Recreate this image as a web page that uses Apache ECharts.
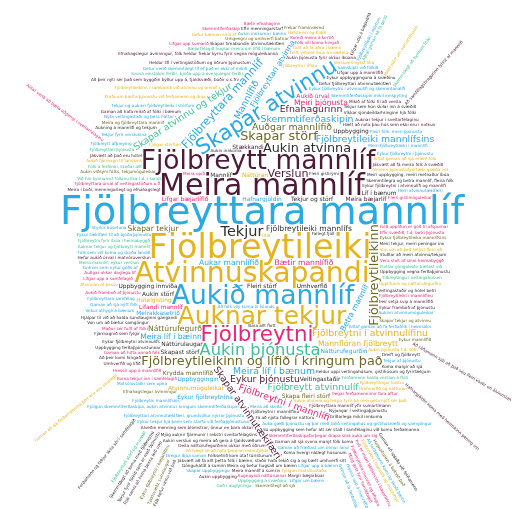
<!DOCTYPE html>
<html>
<head>
<meta charset="utf-8">
<script src="https://cdn.jsdelivr.net/npm/echarts@6.0.0/dist/echarts.min.js"></script>
<style>
html, body { margin: 0; padding: 0; background: #fff; }
#chart { width: 524px; height: 509px; }
</style>
</head>
<body>
<div id="chart"></div>
<script>
// answers with the number of times each was given
const topWords = [
  'Fjölbreyttara mannlíf', 'Fjölbreytileiki', 'Meira mannlíf', 'Atvinnuskapandi',
  'Fjölbreytt mannlíf', 'Aukið mannlíf', 'Auknar tekjur', 'Skapar atvinnu', 'Fjölbreytni',
  'Aukin þjónusta', 'Tekjur', 'Aukin atvinna', 'Fjölbreytileikinn og lífið í kringum það',
  'Skapar störf', 'Fjölbreytileikinn'
]
const topCounts = [21, 18, 16, 15, 14, 14, 13, 11, 11, 8, 7, 6, 6, 6, 6]

const midWords = [
  'Verslun', 'Fjölbreyttara mannlíf', 'Auðgar mannlífið', 'Skemmtiferðaskipin', 'Meira líf í bænum',
  'Eykur þjónustu', 'Skapar atvinnutækifæri', 'Mannlífið', 'Skapar atvinnu og tekjur',
  'Fjölbreytni í mannlífi', 'Efnahagurinn', 'Fjölbreytt atvinnulíf', 'Fjölbreytileiki mannlífsins',
  'Fjölbreytni í atvinnulífinu', 'Fjölbreytileiki mannlífs', 'Aukar mannlífið', 'Bætir mannlífið',
  'Náttúrufegurð', 'Skapar tekjur', 'Meiri þjónusta', 'Mannflóran fjölbreytt', 'Meira líf í bæinn',
  'Fjölbreyttari atvinna', 'Betra mannlíf', 'Hafnargjöldin', 'Tekjur og störf', 'Lífgar bæjarlífið',
  'Fleiri störf', 'Meira bæjarlíf', 'Stækkandi', 'Náttúrulaugar', 'Uppbygging innviða',
  'Lifandi mannlíf', 'Umhverfið', 'Náttúrufegurðin', 'Uppbygging', 'Veitingastaðir', 'Aukin störf',
  'Skapa fleiri störf', 'Melrakkasetrið', 'Krydda mannlífið', 'Skapast störf', 'Uppbyggingin',
  'Aukið úrval', 'Atvinnumöguleikar', 'Eykur fjölbreytnina', 'Náttúran', 'Líf í bænum', 'Mannlíf',
  'Hótelgisting'
]
const midCounts = [
  5, 5, 4, 4, 4,
  4, 4, 4, 4,
  4, 4, 4, 4,
  4, 3, 3, 3,
  3, 3, 3, 3, 3,
  3, 3, 2, 2, 2,
  2, 2, 2, 2, 2,
  2, 2, 2, 2, 2, 2,
  2, 2, 2, 2, 2,
  2, 2, 2, 2, 2, 2,
  2
]

// single answers, grouped by the colour they are drawn in
const bluePhrases = [
  'Auka gæði þjónustu og þar með talið veitingahús og gistihúsnæði og samgöngur',
  'Fjölbreyttari atvinnutækifæri, grundvöllur nýrrar þjónustu', 'Aukin innkoma í bæinn',
  'Gaman að sjá nýtt fólk', 'Dregur íbúa saman', 'Tekjur fyrir verslunina', 'Styrkir búsetuna',
  'Matsölustaðir sem opna', 'Vekur athygli á bænum',
  'Eykur tekjur hjá þeim sem starfa við ferðaþjónustuna', 'Aukinn atvinnumöguleikar',
  'Eykur fjölbreytni í þjónustu', 'Fleiri fólk, meiri þjónusta', 'Gaman að fræðast um önnur lönd',
  'Samskipti við fólkið', 'Fjölbreytt afþreying', 'Fjölbreytni mannlífsins',
  'Alltaf gaman að fá ferðafólk í heimsókn', 'Skemmtiferðaskipin mikil innspýting',
  'Nýta veitingastaði og þess háttar', 'Getur verið skemmtilegt líf ef það er ekki of mikið',
  'Lífgar upp á bæinn', 'Tekjur af þjónustu', 'Meiri fjölbreytileiki í mannlífi', 'Meira að skoða',
  'Fjölbreyttara samfélag', 'Fleiri atvinnutækifæri', 'Fólk sem vill koma og skoða landið',
  'Eykur fjölbreytni í atvinnulífi og skemmtanalífi', 'Eykur tækifæri til að bjóða þjónustu',
  'Einhver sem nýtur góðs af',
  'Fjölgun skemmtiferðaskipa, aukin atvinna í kringum skemmtiferðaskipin', 'Skapar uppbyggingu',
  'Að fólk vilji koma til Íslands', 'Tekjur og aukinn fjölbreytileiki í störfum', 'Lífgar um bæinn',
  'Fjölbreytileiki í störfum', 'Gaman að fá ferðafólk', 'Hressa upp á mannlífið',
  'Að ferðamenn komi og skoði bæinn'
]
const maroonPhrases = [
  'Heldur lífi í veitingastöðum og öðrum þjónustum', 'Eykur fjölbreytni í atvinnulífi og mannlífi',
  'Auknar tekjur í sveitarfélaginu', 'Meira í boði, menningarlegt og efnahagslegt',
  'Meira mannlíf á sumrin', 'Hætt að nota þau hús sem ekki eru í notkun',
  'Alveðin menning sem blómstrar, önnur en bara okkar',
  'Að þeir nýti sér það sem byggðin býður upp á, tjaldsvæði, búðir o.s.frv',
  'Gaman að hafa mikið af fólki í bænum', 'Gaman að sjá svona margt fólk koma',
  'Þeir setja svip á mannlífið', 'Fjölbreyttara mannlíf yfir sumartímann',
  'Hefur aukið úrval í matvöruverslun', 'Aukin þjónusta fyrir okkur íbúana',
  'Deila náttúrufegurðinni okkar með öðrum', 'Umhverfið og lífið', 'Eykur framboð af þjónustu',
  'Mikið af fólki til að versla', 'Jákvætt að það eru hótel', 'Margir bæjarbúar',
  'Fjármagnið sem fylgir', 'Lífgar upp á mannlífið', 'Jákvætt að fá meira fólk á svæðið',
  'Efnahagslegur ávinningur, fólk heldur frekar kyrru fyrir vegna möguleikanna', 'Aukin uppbygging',
  'Að ráðamenn sjái að það séu fleiri kostir en álvinnslan',
  'Hafnargjöldin koma með heilmikinn pening inn', 'Fólk nenni að koma þessa leið upp',
  'Að samfélagsbragurinn fyllist af mannlífi'
]
const goldPhrases = [
  'Gott viðmót íbúa á svæðinu', 'Aukin atvinna og tekjur fyrir þá sem geta nýtt sér það',
  'Alltaf gaman að sjá erlent fólk', 'Aukin þjónusta t.d. söfn', 'Atvinnan af þessu',
  'Fjölbreytni í lífinu', 'Gott að fá aðra í bæinn', 'Að hægt sé að nýta þennan mannfjölda',
  'Von um að það setjist fleiri að', 'Fjölgar störfum', 'Verslunin eykst líka',
  'Umhverfið og náttúran', 'Aukið fjármagn til landsins', 'Fjölgun matsölustaða',
  'Almenn þjónustufyrirtæki græða vel', 'Fjölbreytileikinn í sambandi við atvinnu og annað',
  'Hafsteinn og Kiddi', 'Fjölbreytilegur kostur', 'Krafa um bætta þjónustu við ferðamenn og íbúa',
  'Upplifunin og náttúrufegurðin', 'Gefur bænum smá líf', 'Lítið',
  'Fjölbreytni í mannlífi og menningu', 'Gaman að sjá ferðamennina þeir eru svo vinalegir',
  'Meiri störf um sumartímann'
]
const pinkPhrases = [
  'Fleiri gistimöguleikar', 'Fólk vill koma hingað', 'Þegar ferðamennirnir fara aftur',
  'Hressir upp á mannlífið', 'Vera stolt af sinni heimabyggð', 'Augnayndi náttúrunnar',
  'Góð upplifun er góð til afspurnar', 'Auðgar okkar daglega líf', 'Komið meira á kortið',
  'Lífgar upp sumarið', 'Maður sér fullt af fólki', 'Bætir efnahaginn',
  'Koma tekjur inn í samfélagið', 'Meira opið', 'Fjölbreyttara úrval af veitingastöðum o.fl.',
  'Eflir svæðið, t.d. betri þjónusta', 'Skemmtiferðaskip', 'Lífgar upp á samfélagið',
  'Aukið framboð af þjónustu', 'Gaman að hitta annað fólk',
  'Skemmtiferðaskipafarþegar skapa smá auka um sig', 'Fjölbreytileiki í mannlífinu',
  'Mjög gott fyrir samfélagið', 'Fjölbreyttara mannlíf og líflegra',
  'Alltaf verið að bæta aðgengi í sveitarfélaginu', 'Það er meiri fjölbreytni í bæjarlífinu'
]
const tealPhrases = [
  'Bæjarfélagið hugsar meira um lífið í bænum', 'Fólk á ferðinni, skoðar allt', 'Góð í auglýsingu',
  'Fjölbreyttari þjónusta', 'Fjölbreyttari störf og mannlíf', 'Tilbreytingu í veitingahúsum',
  'Meira mannlíf, eykur verslun', 'Ferðamenn halda verslun á floti', 'Uppbygging á svæðinu',
  'Fjölbreytni fyrir íbúa í heimabyggð', 'Svona einstakar ferðir, bjóða upp á óvenjulegar ferðir',
  'Við hin kynnumst fólkinu líka t.d. í sundi', 'Flottar gönguleiðir bætast við',
  'Auknar tekjur og fjölbreytt mannlíf', 'Alltaf gaman að fá gesti', 'Skemmtilegt að kynnast fólki'
]
const olivePhrases = [
  'Frekar framkvæmd', 'Meira og fjölbreyttara mannlíf', 'Eykur fjölbreytileika mannlífsins',
  'Efnahagslegur ávinningur', 'Skapar tekjur og atvinnu', 'Aukin víðsýni fólks, tekjumöguleikar',
  'Eykur mannlífið', 'Skemmtilegt að sjá', 'Umgengni og umhverfi batnar',
  'Hagnaðurinn á bakvið það', 'Tjaldsvæði, sundlaugar', 'Eykur fjölbreytni í bæjarlífinu'
]
const darkPhrases = [
  'Víkkar sjóndeildarhringinn hjá fólki', 'Aukin verslun og meira að gera á tjaldsvæðum',
  'Gönguhátíð á sumrin', 'Koma hvergi nálægt húsunum', 'Dreift og fjölbreytt', 'Koma margir að sjá',
  'Nýjungar í veitingaþjónustu', 'Fólksetrið kom útaf túristunum', 'Fallegt fjöll', 'Aukin innkoma',
  'Fá að njóta fallegrar náttúru', 'Að þeir komi hingað', 'Eykur fjölbreytni atvinnulífs',
  'Gefur fjölbreyttari atvinnutækifæri', 'Veitingastaðir og hótel betri',
  'Gaman að spjalla við ferðamenn', 'Bara allt flott', 'Uppbygging vegna ferðaþjónustu',
  'Meiri tekjur, meiri peningar inn', 'Meira og betur hugsað um bæinn', 'Eflir menningarstarf',
  'Eykur uppbygginguna á svæðinu', 'Aukning á mannlífi og tekjum', 'Gríðarlega mikil innkoma',
  'Skemmtilegra og betra mannlíf, fleira fólk', 'Hjálpar til við að halda sundlauginni gangandi',
  'Stuðlar að meiri atvinnu/tekjum',
  'Jákvætt að fá allt þetta fólk í bæinn, staðir hafa tekið sig á og bætt umhverfi sitt',
  'Sú uppbygging sem hefur átt sér stað í samfélaginu við komu ferðamanna', 'Fleiri gistirými',
  'Von um að bætur samgöngur', 'Mjög auknir fjármunir í rekstri sveitarfélagsins',
  'Uppbygging ferðaþjónustunnar', 'Tekjur sem hún skilar inn á svæðið', 'Fjölbreytni í mannlífinu',
  'Skapar tímabundin atvinnutækifæri', 'Heldur uppi veitingahúsum, gistihúsum og fyrirtækjum',
  'Meiri uppbygging, meiri metnaður íbúa',
  'Fólk hefur vinnu við það', 'Lífgar upp á bæjarlífið', 'Tekjur fyrir fólkið sem er með þjónustu',
  'Ferðamenn og tekjur skila sér í samfélagið', 'Skemmtilegt að koma með fjölbreytni'
]

// ---- styles ----
const palette = {
  blue: '#2aa9e2', maroon: '#4d1a38', gold: '#e4b41e', pink: '#e2287a',
  teal: '#3fc195', olive: '#6e6824', dark: '#2e2e2e'
}
const topTones = ['blue', 'gold', 'maroon', 'gold', 'maroon', 'blue', 'gold', 'blue', 'pink',
  'teal', 'dark', 'dark', 'olive', 'olive', 'olive']
const topTurns = [0, 0, 0, 0, 0, 0, 0, 32, 0, 0, 0, 0, 0, 0, 90]
const midTones = [
  'maroon', 'blue', 'olive', 'blue', 'blue',
  'maroon', 'maroon', 'blue', 'teal',
  'pink', 'maroon', 'teal', 'blue',
  'gold', 'dark', 'blue', 'pink',
  'olive', 'olive', 'pink', 'gold', 'blue',
  'blue', 'blue', 'blue', 'dark', 'pink',
  'dark', 'maroon', 'maroon', 'dark', 'dark',
  'pink', 'dark', 'blue', 'dark', 'dark', 'dark',
  'olive', 'blue', 'olive', 'dark', 'blue',
  'pink', 'gold', 'blue', 'gold', 'dark', 'dark',
  'gold'
]
const midTurns = [
  0, 48, 0, 0, 0,
  0, -55, 62, 33,
  -19, 0, 0, 0,
  0, 0, 0, 0,
  0, 0, 0, 0, 0,
  58, 62
]
// answers laid out along a ray from the middle of the cloud
const rayPhrases = new Set([
  'Fjölbreytileiki í störfum', 'Gaman að fá ferðafólk', 'Hressa upp á mannlífið',
  'Að ferðamenn komi og skoði bæinn', 'Að ráðamenn sjái að það séu fleiri kostir en álvinnslan',
  'Hafnargjöldin koma með heilmikinn pening inn', 'Fólk nenni að koma þessa leið upp',
  'Að samfélagsbragurinn fyllist af mannlífi', 'Fjölbreytni í mannlífi og menningu',
  'Gaman að sjá ferðamennina þeir eru svo vinalegir', 'Meiri störf um sumartímann',
  'Mjög gott fyrir samfélagið', 'Fjölbreyttara mannlíf og líflegra',
  'Alltaf verið að bæta aðgengi í sveitarfélaginu', 'Það er meiri fjölbreytni í bæjarlífinu',
  'Alltaf gaman að fá gesti', 'Skemmtilegt að kynnast fólki',
  'Hagnaðurinn á bakvið það', 'Tjaldsvæði, sundlaugar', 'Eykur fjölbreytni í bæjarlífinu',
  'Fólk hefur vinnu við það', 'Lífgar upp á bæjarlífið', 'Tekjur fyrir fólkið sem er með þjónustu',
  'Ferðamenn og tekjur skila sér í samfélagið', 'Skemmtilegt að koma með fjölbreytni',
  'Fjölbreyttari störf og mannlíf', 'Gaman að spjalla við ferðamenn'
])

const FONT = 'DejaVu Sans'
const W = 524, H = 509
const fontSize = (c) => 4.2 + 1.72 * (c - 1)

// ---- collect entries ----
const entries = []
topWords.forEach((t, i) => entries.push({ text: t, count: topCounts[i], color: palette[topTones[i]], turn: topTurns[i], order: i }))
midWords.forEach((t, i) => entries.push({ text: t, count: midCounts[i], color: palette[midTones[i]], turn: midTurns[i] || 0, order: 100 + i }))
const groups = { blue: bluePhrases, maroon: maroonPhrases, gold: goldPhrases, pink: pinkPhrases,
  teal: tealPhrases, olive: olivePhrases, dark: darkPhrases }
Object.keys(groups).forEach(k => groups[k].forEach(t =>
  entries.push({ text: t, count: 1, color: palette[k], turn: rayPhrases.has(t) ? null : 0, order: 1000 })))

entries.sort((a, b) => (b.count - a.count) || (a.order - b.order) ||
  ((a.turn === null) - (b.turn === null)) || (b.text.length - a.text.length))

// ---- word cloud layout (pixel masks, nearest free spot) ----
const shape = { x: 263, y: 260, rx: 263, ry: 250, p: 4 }
const origin = { x: 262, y: 214 }
const grid = new Uint8Array(W * H)
for (let y = 0; y < H; y++) for (let x = 0; x < W; x++) {
  const u = Math.abs(x + 0.5 - shape.x) / shape.rx, v = Math.abs(y + 0.5 - shape.y) / shape.ry
  if (Math.pow(u, shape.p) + Math.pow(v, shape.p) > 1) grid[y * W + x] = 1
}
// two search orders: a loose one for most answers, and a column one that
// stacks the widest frequent answers mostly under the largest one
function searchOrder(upCost) {
  const list = []
  const keys = new Float64Array(W * H)
  for (let y = 0; y < H; y++) for (let x = 0; x < W; x++) {
    const i = y * W + x
    if (grid[i]) continue
    const dx = (x - origin.x) * 1.6
    const dy = y < origin.y ? upCost(origin.y - y) : y - origin.y
    keys[i] = dx * dx + dy * dy
    list.push(i)
  }
  return Int32Array.from(list).sort((a, b) => keys[a] - keys[b])
}
const looseOrder = searchOrder(d => d * 1.44)
const columnOrder = searchOrder(d => d < 60 ? d * 1.3 : 78 + (d - 60) * 8)

const mcan = document.createElement('canvas')
const mctx = mcan.getContext('2d', { willReadFrequently: true })
function glyphs(text, size) {
  const font = size + 'px "' + FONT + '"'
  mctx.font = font
  const tw = mctx.measureText(text).width
  const w = Math.ceil(tw) + 6
  const h = Math.ceil(size * 1.6) + 6
  mcan.width = w; mcan.height = h
  mctx.font = font
  mctx.textAlign = 'center'
  mctx.textBaseline = 'middle'
  mctx.fillStyle = '#000'
  mctx.fillText(text, w / 2, h / 2)
  const d = mctx.getImageData(0, 0, w, h).data
  const pts = []
  for (let s = 0; s < 5; s++) {
    for (let y = 0; y < h; y++) for (let x = (y + s) % 5; x < w; x += 5) {
      if (d[(y * w + x) * 4 + 3] > 20) pts.push(x + 0.5 - w / 2, y + 0.5 - h / 2)
    }
  }
  return { pts, width: tw }
}
function turned(pts, rad) {
  const c = Math.cos(rad), s = Math.sin(rad)
  const n = pts.length / 2
  const dx = new Int16Array(n), dy = new Int16Array(n)
  for (let i = 0; i < n; i++) {
    const x = pts[2 * i], y = pts[2 * i + 1]
    dx[i] = Math.floor(x * c + y * s)
    dy[i] = Math.floor(-x * s + y * c)
  }
  return { dx, dy }
}
function fits(cx, cy, m) {
  const n = m.dx.length
  for (let i = 0; i < n; i++) {
    const x = cx + m.dx[i], y = cy + m.dy[i]
    if (x < 0 || x >= W || y < 0 || y >= H || grid[y * W + x]) return false
  }
  return true
}
function mark(cx, cy, m) {
  const n = m.dx.length
  for (let i = 0; i < n; i++) {
    const x = cx + m.dx[i], y = cy + m.dy[i]
    for (let yy = y - 1; yy <= y + 1; yy++) for (let xx = x - 1; xx <= x + 1; xx++) {
      if (xx >= 0 && xx < W && yy >= 0 && yy < H) grid[yy * W + xx] = 1
    }
  }
}

const placed = []
const STEP = Math.PI / 60
for (const e of entries) {
  const size = fontSize(e.count)
  const g = glyphs(e.text, size)
  const cands = (e.count >= 6 && e.turn === 0 && g.width > 84) ? columnOrder : looseOrder
  const cache = {}
  for (let k = 0; k < cands.length; k++) {
    const idx = cands[k]
    if (grid[idx]) continue
    const cx = idx % W, cy = (idx / W) | 0
    let rot
    if (e.turn !== null) {
      rot = e.turn * Math.PI / 180
    } else {
      let a = Math.atan2(-(cy - shape.y), cx - shape.x)
      if (a > Math.PI / 2) a -= Math.PI
      if (a <= -Math.PI / 2) a += Math.PI
      rot = Math.round(a / STEP) * STEP
    }
    const m = cache[rot] || (cache[rot] = turned(g.pts, rot))
    if (fits(cx, cy, m)) {
      mark(cx, cy, m)
      placed.push({ x: cx, y: cy, rot, size, text: e.text, color: e.color })
      break
    }
  }
}

const chart = echarts.init(document.getElementById('chart'))
chart.setOption({
  animation: false,
  series: [{
    type: 'custom',
    coordinateSystem: 'none',
    data: placed.map(p => [p.x, p.y, p.size, p.rot]),
    renderItem: (params, api) => {
      const p = placed[params.dataIndex]
      return {
        type: 'text',
        x: api.value(0),
        y: api.value(1),
        rotation: api.value(3),
        silent: true,
        style: {
          text: p.text,
          fill: p.color,
          fontSize: api.value(2),
          fontFamily: FONT,
          align: 'center',
          verticalAlign: 'middle'
        }
      }
    }
  }]
})
</script>
</body>
</html>
